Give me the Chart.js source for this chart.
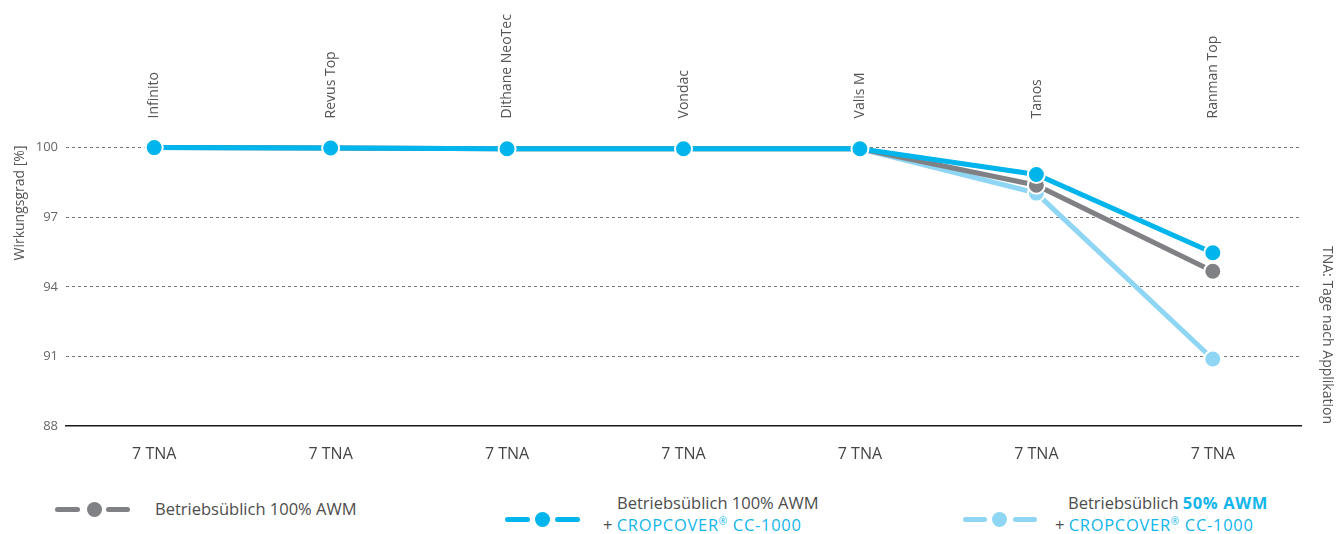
<!DOCTYPE html>
<html>
<head>
<meta charset="utf-8">
<script src="https://cdn.jsdelivr.net/npm/chart.js@4"></script>
<style>
  body { margin: 0; background: #fff; font-family: "Open Sans", sans-serif; }
  #wrap { position: relative; width: 1336px; height: 534px; }
  #chartBox { position: absolute; left: 0; top: 0; width: 1336px; height: 470px; }
  .leg { position: absolute; font-size: 16.5px; color: #4d4d4d; white-space: nowrap; line-height: 20px; }
  .leg sup { font-size: 10px; line-height: 0; vertical-align: 6px; }
  .blue { color: #13b5ea; }
  .cc { letter-spacing: 0.7px; }
  .dash { position: absolute; height: 5px; border-radius: 3px; }
  .dot { position: absolute; width: 15px; height: 15px; border-radius: 50%; }
</style>
</head>
<body>
<div id="wrap">
  <div id="chartBox"><canvas id="lineChart"></canvas></div>

  <!-- legend -->
  <div class="dash" style="left:55px;top:507px;width:25px;background:#808184"></div>
  <div class="dot" style="left:87px;top:502px;background:#808184"></div>
  <div class="dash" style="left:106px;top:507px;width:24px;background:#808184"></div>
  <div class="leg" style="left:155px;top:499px">Betriebsüblich 100% AWM</div>

  <div class="dash" style="left:505px;top:517px;width:25px;background:#00b4ec"></div>
  <div class="dot" style="left:535px;top:512px;background:#00b4ec"></div>
  <div class="dash" style="left:555px;top:517px;width:25px;background:#00b4ec"></div>
  <div class="leg" style="left:617px;top:493px">Betriebsüblich 100% AWM</div>
  <div class="leg" style="left:603px;top:515px">+ <span class="blue cc">CROPCOVER<sup>®</sup> CC-1000</span></div>

  <div class="dash" style="left:963px;top:517px;width:24px;background:#8ed6f4"></div>
  <div class="dot" style="left:992px;top:512px;background:#8ed6f4"></div>
  <div class="dash" style="left:1013px;top:517px;width:24px;background:#8ed6f4"></div>
  <div class="leg" style="left:1068px;top:493px">Betriebsüblich <b class="blue" style="letter-spacing:0.6px">50% AWM</b></div>
  <div class="leg" style="left:1055px;top:515px">+ <span class="blue cc">CROPCOVER<sup>®</sup> CC-1000</span></div>
</div>

<script>
const products = ["Infinito", "Revus Top", "Dithane NeoTec", "Vondac", "Valis M", "Tanos", "Ranman Top"];
const tnaLabels = ["7 TNA", "7 TNA", "7 TNA", "7 TNA", "7 TNA", "7 TNA", "7 TNA"];
const yTicks = [88, 91, 94, 97, 100];

// Wirkungsgrad [%]
const awm100 = [100, 99.98, 99.95, 99.95, 99.95, 98.38, 94.67];
const awm100Cropcover = [100, 99.98, 99.95, 99.95, 99.95, 98.84, 95.47];
const awm50Cropcover = [100, 99.98, 99.95, 99.95, 99.95, 98.04, 90.89];

Chart.defaults.font.family = "'Open Sans', sans-serif";

function lineSet(label, data, color, order) {
  return {
    label: label,
    data: data,
    order: order,
    borderColor: color,
    backgroundColor: color,
    borderWidth: 5,
    pointRadius: 8.5,
    pointBorderWidth: 2,
    pointBorderColor: "#fff",
    pointBackgroundColor: color,
    tension: 0,
  };
}

// side titles
const sideTitles = {
  id: "sideTitles",
  afterDraw(chart) {
    const ctx = chart.ctx;
    ctx.save();
    ctx.font = "14px 'Open Sans', sans-serif";
    ctx.fillStyle = "#555";
    ctx.textAlign = "center";
    ctx.textBaseline = "middle";

    ctx.translate(20, 203);
    ctx.rotate(-Math.PI / 2);
    ctx.fillText("Wirkungsgrad [%]", 0, 0);
    ctx.restore();

    ctx.save();
    ctx.font = "14px 'Open Sans', sans-serif";
    ctx.fillStyle = "#555";
    ctx.textAlign = "center";
    ctx.textBaseline = "middle";
    ctx.translate(1327, 335);
    ctx.rotate(Math.PI / 2);
    ctx.fillText("TNA: Tage nach Applikation", 0, 0);
    ctx.restore();
  },
};

const ctx = document.getElementById("lineChart").getContext("2d");

new Chart(ctx, {
  type: "line",
  data: {
    labels: products,
    datasets: [
      lineSet("Betriebsüblich 100% AWM", awm100, "#808184", 1),
      lineSet("Betriebsüblich 100% AWM + CROPCOVER® CC-1000", awm100Cropcover, "#00b4ec", 0),
      lineSet("Betriebsüblich 50% AWM + CROPCOVER® CC-1000", awm50Cropcover, "#8ed6f4", 2),
    ],
  },
  options: {
    responsive: true,
    maintainAspectRatio: false,
    animation: false,
    layout: { padding: { left: 0, right: 35, top: 0, bottom: 0 } },
    plugins: {
      legend: { display: false },
      tooltip: { enabled: false },
    },
    scales: {
      x: {
        type: "category",
        labels: tnaLabels,
        position: "bottom",
        offset: true,
        grid: { drawOnChartArea: false, drawTicks: false },
        border: { display: true, color: "#1a1a1a", width: 1.5 },
        ticks: {
          color: "#444",
          font: { size: 16 },
          padding: 19,
          autoSkip: false,
          maxRotation: 0,
        },
        afterFit: (scale) => { scale.height = 44; },
      },
      x2: {
        type: "category",
        labels: products,
        position: "top",
        offset: true,
        grid: { display: false, drawTicks: false },
        border: { display: false },
        ticks: {
          color: "#555",
          font: { size: 14 },
          padding: 6,
          labelOffset: 17,
          autoSkip: false,
          minRotation: 90,
          maxRotation: 90,
        },
        afterFit: (scale) => { scale.height = 124.4; },
      },
      y: {
        min: 88,
        max: 101,
        afterBuildTicks: (scale) => {
          scale.ticks = yTicks.map((v) => ({ value: v }));
        },
        grid: {
          color: (c) => (c.tick && c.tick.value === 88 ? "rgba(0,0,0,0)" : "#777"),
          lineWidth: 1,
          drawTicks: false,
        },
        border: { display: false, dash: [3, 3] },
        ticks: {
          color: "#666",
          font: { size: 13 },
          padding: 8,
        },
        afterFit: (scale) => { scale.width = 66; },
      },
    },
  },
  plugins: [sideTitles],
});
</script>
</body>
</html>
